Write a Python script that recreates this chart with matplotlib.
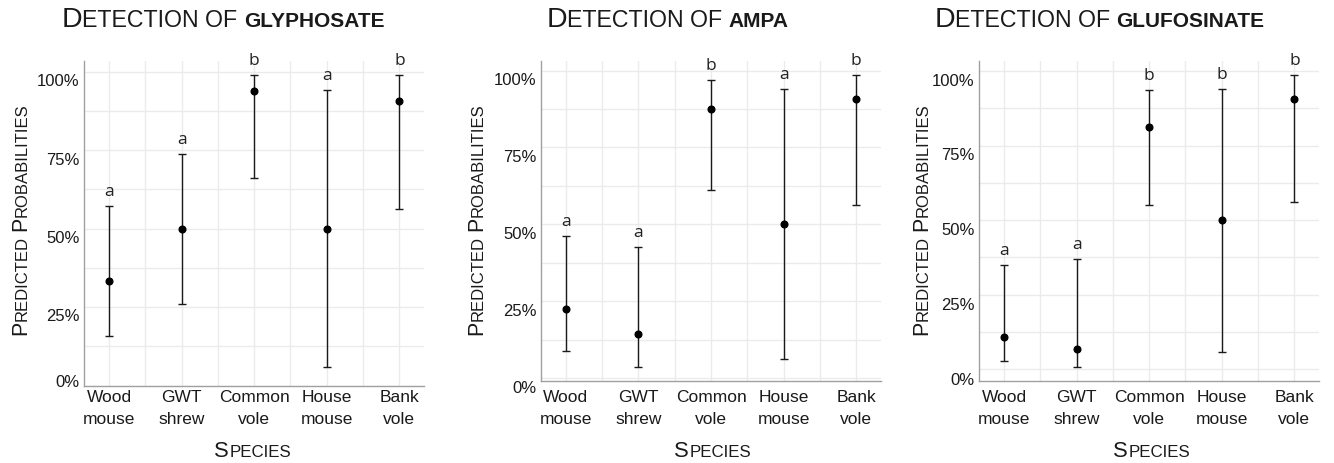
import matplotlib
matplotlib.use("Agg")
import matplotlib.pyplot as plt
from matplotlib.transforms import ScaledTranslation

# species on the x axis
species = ["Wood\nmouse", "GWT\nshrew", "Common\nvole", "House\nmouse", "Bank\nvole"]

# predicted probabilities with lower / upper confidence limits
glyphosate_est = [0.334, 0.500, 0.937, 0.500, 0.908]
glyphosate_lo = [0.159, 0.259, 0.663, 0.058, 0.563]
glyphosate_hi = [0.573, 0.739, 0.990, 0.942, 0.988]
glyphosate_grp = ["a", "a", "b", "a", "b"]

ampa_est = [0.225, 0.144, 0.874, 0.500, 0.908]
ampa_lo = [0.088, 0.036, 0.611, 0.061, 0.562]
ampa_hi = [0.463, 0.427, 0.968, 0.941, 0.985]
ampa_grp = ["a", "a", "b", "a", "b"]

glufosinate_est = [0.109, 0.067, 0.812, 0.500, 0.908]
glufosinate_lo = [0.026, 0.006, 0.550, 0.056, 0.562]
glufosinate_hi = [0.350, 0.368, 0.937, 0.941, 0.987]
glufosinate_grp = ["a", "a", "b", "b", "b"]

compounds = ["GLYPHOSATE", "AMPA", "GLUFOSINATE"]
y_ticks = [0, 0.25, 0.5, 0.75, 1.0]
y_ticklabels = ["0%", "25%", "50%", "75%", "100%"]

W, H = 1334, 464
fig = plt.figure(figsize=(W / 100, H / 100), dpi=100)
FONT = "Liberation Sans"
INK = "#1a1a1a"


def caps_text(x, y, parts, rotation=0, ha="left"):
    # fake small caps: pieces of text in different sizes placed side by side (pixel coords, y from top)
    r = fig.canvas.get_renderer()
    pieces, pos = [], 0.0
    for p in parts:
        if isinstance(p, (int, float)):
            pos += p
            continue
        s, size, weight = p
        t = fig.text(0, 0, s, fontsize=size, fontweight=weight, family=FONT, color=INK,
                     rotation=rotation, rotation_mode="anchor", ha="left", va="baseline")
        ext = t.get_window_extent(r)
        pieces.append((t, pos))
        pos += ext.width if rotation == 0 else ext.height
    shift = -pos / 2 if ha == "center" else 0
    for t, p0 in pieces:
        if rotation == 0:
            t.set_position(((x + p0 + shift) / W, 1 - y / H))
        else:
            t.set_position((x / W, 1 - (y - p0 - shift) / H))


def sp(size):
    return 0.278 * size * 100 / 72


panels = [
    # left, right, top, bottom (px), ylim, ticklabel offsets (px down), title x, ylabel x, xlabel x
    dict(box=(84, 424, 62, 386.7), ylim=(0.0, 1.034), offs=[-5.7, 7.3, 7.5, 7.5, 7.3],
         tx=61.7, yx=26.7, xx=252.7, xpad=2.5,
         est=glyphosate_est, lo=glyphosate_lo, hi=glyphosate_hi, grp=glyphosate_grp),
    dict(box=(540.7, 881, 62, 382.3), ylim=(-0.010, 1.031), offs=[7.3, 7.5, 7.5, 7.5, 7.5],
         tx=546.7, yx=482.3, xx=712.7, xpad=5.5,
         est=ampa_est, lo=ampa_lo, hi=ampa_hi, grp=ampa_grp),
    dict(box=(979, 1319, 62, 382.3), ylim=(-0.041, 1.034), offs=[9, 8, 8, 7.3, 7.7],
         tx=934.3, yx=927.3, xx=1151.7, xpad=5.5,
         est=glufosinate_est, lo=glufosinate_lo, hi=glufosinate_hi, grp=glufosinate_grp),
]

x = list(range(len(species)))

for cfg, name in zip(panels, compounds):
    l, r, t, b = cfg["box"]
    ax = fig.add_axes([l / W, 1 - b / H, (r - l) / W, (b - t) / H])
    est, lo, hi = cfg["est"], cfg["lo"], cfg["hi"]
    yerr = [[e - a for e, a in zip(est, lo)], [c - e for e, c in zip(est, hi)]]
    ax.errorbar(x, est, yerr=yerr, fmt="o", color="black", ecolor=INK, elinewidth=1.0,
                capsize=3.2, capthick=1.0, markersize=4.8, zorder=3)
    for xi, top, g in zip(x, hi, cfg["grp"]):
        ax.annotate(g, (xi, top), xytext=(0, 8), textcoords="offset points", ha="center",
                    va="baseline", fontsize=12.5, family="Open Sans", color="#222222",
                    annotation_clip=False)

    ax.set_xlim(-0.345, 4.34)
    ax.set_ylim(*cfg["ylim"])
    ax.set_xticks(x)
    ax.set_xticklabels(species, fontsize=12.5, family=FONT, color=INK, linespacing=1.55)
    ax.set_xticks([0.5, 1.5, 2.5, 3.5], minor=True)
    ax.set_yticks(y_ticks)
    ax.set_yticklabels(y_ticklabels, fontsize=12, family=FONT, color=INK)
    ax.set_yticks([0.125, 0.375, 0.625, 0.875], minor=True)
    ax.tick_params(which="both", length=0)
    ax.tick_params(axis="y", pad=3)
    ax.tick_params(axis="x", pad=cfg["xpad"])
    ax.grid(True, which="both", color="#ebebeb", linewidth=1.0)
    ax.set_axisbelow(True)
    for s in ["top", "right"]:
        ax.spines[s].set_visible(False)
    for s in ["left", "bottom"]:
        ax.spines[s].set_color("#a0a0a0")
        ax.spines[s].set_linewidth(1.0)

    for lab, d in zip(ax.get_yticklabels(), cfg["offs"]):
        lab.set_transform(lab.get_transform() + ScaledTranslation(0, -d / 100, fig.dpi_scale_trans))

    caps_text(cfg["tx"], 27.3, [("D", 20.5, "normal"), ("ETECTION OF", 16.7, "normal"), sp(16.7),
                                (name, 15.0, "bold")])
    caps_text(cfg["yx"], 335, [("P", 15.5, "normal"), ("REDICTED", 12.0, "normal"), sp(12.0),
                               ("P", 15.5, "normal"), ("ROBABILITIES", 12.0, "normal")], rotation=90)
    caps_text(cfg["xx"], 457, [("S", 15.8, "normal"), ("PECIES", 12.2, "normal")], ha="center")

fig.savefig("out.png", dpi=100)
